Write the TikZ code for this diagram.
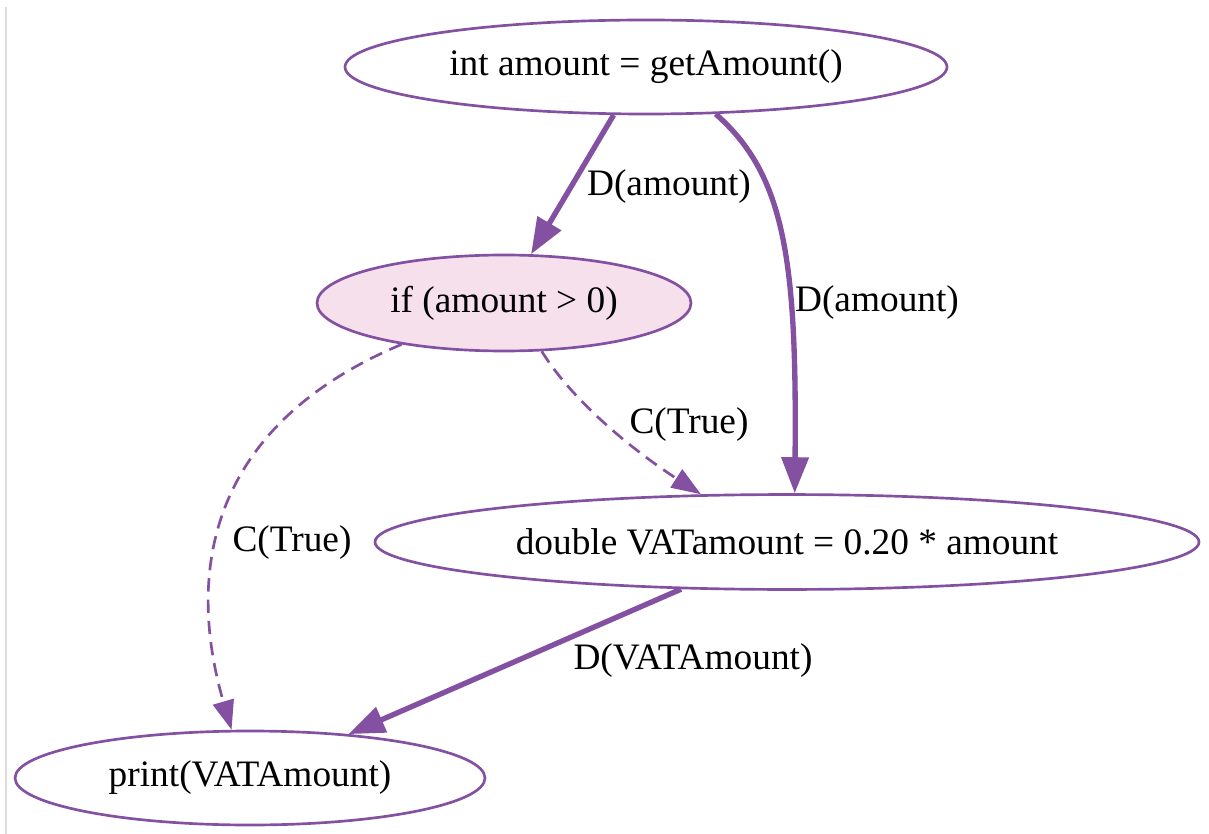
\documentclass[tikz,border=0pt]{standalone}
\usepackage{fontspec}
\setmainfont{Liberation Serif}
\usetikzlibrary{arrows.meta,shapes.geometric}
\definecolor{pur}{HTML}{8450A2}
\definecolor{pinkfill}{HTML}{F6E0EC}
\definecolor{edgegrey}{HTML}{DDDDDD}
\begin{document}
\begin{tikzpicture}[x=0.375pt,y=-0.375pt,
  stmt/.style={ellipse, draw=pur, line width=1pt, inner sep=0pt, font=\fontsize{14}{16}\selectfont},
  dep/.style={draw=pur, line width=2pt, -{Triangle[length=13.5pt,width=10pt]}},
  ctl/.style={draw=pur, line width=1pt, dash pattern=on 5pt off 3pt, -{Triangle[length=11pt,width=8pt]}},
  lbl/.style={font=\fontsize{14}{16}\selectfont, inner sep=0pt}]
\useasboundingbox (0,0) rectangle (1209,834);
\fill[white] (0,0) rectangle (1209,834);
\draw[edgegrey, line width=0.75pt] (5.5,7) -- (5.5,834);

\node[stmt, minimum width=225.75pt, minimum height=35.25pt] (n1) at (646,67) {int amount = getAmount()};
\node[stmt, fill=pinkfill, minimum width=140.25pt, minimum height=36pt] (n2) at (504,303) {if (amount > 0)};
\node[stmt, minimum width=309pt, minimum height=35.6pt] (n3) at (787,542) {double VATamount = 0.20 * amount};
\node[stmt, minimum width=176.25pt, minimum height=35.25pt] (n4) at (250,778) {print(VATAmount)};

\draw[dep] (n1.-124.4) -- (n2.61.3);
\draw[dep] (n1.-34.8) .. controls (785,175) and (797,260) .. (n3.81);
\draw[ctl] (n2.-52.6) .. controls (575,405) and (640,455) .. (n3.151.3);
\draw[ctl] (n2.-158.5) .. controls (210,425) and (185,570) .. (n4.111);
\draw[dep] (n3.-156.8) -- (n4.24.9);

\node[lbl] (l1) at (669,187) {D(amount)};
\node[lbl] (l2) at (877,303) {D(amount)};
\node[lbl] (l3) at (689,425) {C(True)};
\node[lbl] (l4) at (292,543) {C(True)};
\node[lbl] (l5) at (693,661) {D(VATAmount)};
\end{tikzpicture}
\end{document}
